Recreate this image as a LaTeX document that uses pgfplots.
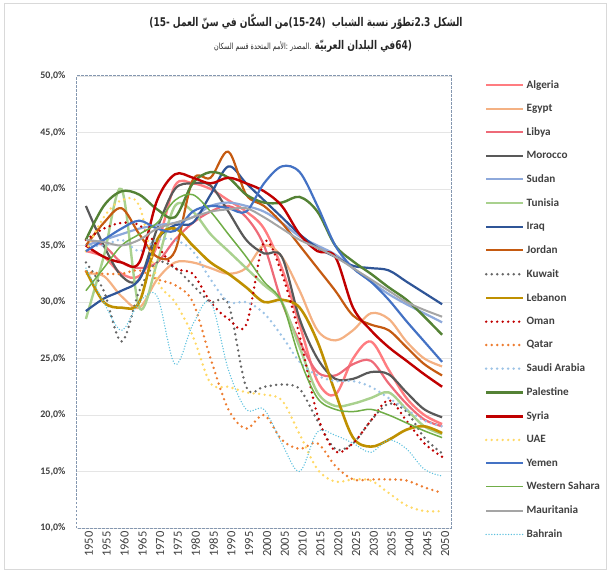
\documentclass[border=0pt]{standalone}
\usepackage{fontspec}
\setmainfont{Carlito}
\newfontfamily\arabicfont[Script=Arabic]{DejaVu Sans}
\TeXXeTstate=1
\usepackage{pgfplots}
\usepackage{pgfplotstable}
\pgfplotsset{compat=1.18}

\definecolor{algeria}{HTML}{FF7C80}
\definecolor{egypt}{HTML}{F4B183}
\definecolor{libya}{HTML}{EE6A78}
\definecolor{morocco}{HTML}{595959}
\definecolor{sudan}{HTML}{8EA9DB}
\definecolor{tunisia}{HTML}{A9D18E}
\definecolor{iraq}{HTML}{2F5597}
\definecolor{jordan}{HTML}{C55A11}
\definecolor{kuwait}{HTML}{666666}
\definecolor{lebanon}{HTML}{BF9000}
\definecolor{oman}{HTML}{C00000}
\definecolor{qatar}{HTML}{ED7D31}
\definecolor{saudi}{HTML}{9DC3E6}
\definecolor{palestine}{HTML}{548235}
\definecolor{syria}{HTML}{C00000}
\definecolor{uae}{HTML}{FFD966}
\definecolor{yemen}{HTML}{4472C4}
\definecolor{wsahara}{HTML}{70AD47}
\definecolor{mauritania}{HTML}{A5A5A5}
\definecolor{bahrain}{HTML}{5BC0DE}
\definecolor{axisblue}{HTML}{8497B0}
\definecolor{txt}{HTML}{404040}

% share of youth (15-24) in working-age population, %
\pgfplotstableread{
year Alg  Egy  Lby  Mor  Sud  Tun  Irq  Jor  Kuw  Leb  Omn  Qat  Sau  Pal  Syr  UAE  Yem  WSa  Mau  Bhr
1950 34.5 32.5 35.5 38.5 35.0 28.5 29.2 35.0 33.5 32.8 35.5 32.7 35.0 35.5 35.0 34.5 34.5 31.0 35.5 33.0
1955 34.0 32.3 35.0 35.0 35.5 34.0 30.3 37.0 31.0 30.0 36.5 32.5 35.0 38.5 34.0 37.5 35.5 33.0 35.3 30.0
1960 32.5 30.5 33.5 32.3 36.0 40.0 31.0 38.3 26.5 29.5 37.0 32.5 35.5 39.8 33.5 39.0 36.5 35.0 35.0 27.5
1965 32.3 29.5 33.0 32.0 36.5 29.5 32.0 36.0 31.0 30.0 36.8 32.8 34.5 39.5 33.5 38.5 37.2 36.0 35.5 30.0
1970 35.0 32.0 33.5 36.5 36.8 33.5 35.5 34.0 33.5 35.5 35.0 32.0 35.5 38.2 39.0 32.0 36.5 37.0 36.5 30.5
1975 40.3 33.5 35.5 40.0 37.0 38.5 36.8 34.5 33.0 36.5 33.0 31.5 35.5 37.5 41.3 30.0 36.3 39.0 37.0 24.5
1980 40.5 33.5 37.0 40.5 37.5 38.0 37.0 40.8 31.5 35.0 32.5 30.0 34.5 40.5 41.0 27.0 38.0 39.5 37.5 28.0
1985 40.0 33.0 38.0 40.3 38.5 36.0 39.5 41.0 30.0 33.5 30.0 25.0 32.0 41.5 40.5 22.8 38.5 38.0 38.0 30.0
1990 39.0 32.5 38.5 38.0 38.8 34.5 42.0 43.3 29.8 32.5 28.5 20.5 30.0 41.0 41.0 22.5 38.3 36.0 38.2 24.0
1995 38.0 33.0 37.5 35.5 38.5 33.0 40.5 39.5 22.5 31.3 28.0 18.8 30.0 39.5 40.5 22.0 38.0 34.0 38.3 20.5
2000 36.5 35.0 35.0 34.3 38.0 31.5 39.0 38.5 22.5 30.0 35.3 20.0 29.0 38.8 39.8 21.8 40.5 31.8 37.5 20.5
2005 33.0 34.0 30.0 34.0 37.0 30.0 37.5 37.0 22.7 30.2 32.5 17.8 27.0 38.8 38.5 21.3 42.0 30.0 36.5 17.5
2010 28.0 31.0 26.5 28.5 35.8 26.0 36.0 35.0 22.3 29.5 27.0 17.0 24.7 39.3 36.0 18.3 41.5 25.0 35.5 15.0
2015 23.0 27.5 23.8 25.0 35.0 22.0 34.8 33.0 19.5 26.5 20.0 17.5 23.5 38.0 34.5 15.2 38.5 21.5 34.8 18.5
2020 21.8 26.6 23.5 23.2 34.2 20.8 34.0 31.0 17.0 22.0 16.8 15.5 23.0 35.0 34.0 14.1 35.0 20.5 34.0 18.2
2025 25.0 27.5 24.5 23.2 33.0 21.0 33.2 28.8 17.5 18.0 17.5 14.3 23.0 33.6 29.5 14.3 33.0 20.3 33.0 17.5
2030 26.5 29.0 24.8 23.8 31.8 21.5 33.0 28.0 19.5 17.2 19.5 14.3 22.5 32.5 27.5 14.2 31.8 20.5 32.0 16.7
2035 24.0 28.5 22.8 23.6 30.7 22.0 32.8 27.5 21.0 17.8 21.3 14.3 21.5 31.3 26.0 13.1 30.2 20.0 31.0 17.8
2040 21.5 26.5 21.0 22.0 29.8 20.5 31.8 26.0 20.3 18.7 19.5 14.2 20.5 30.2 24.8 12.0 28.3 19.3 30.0 17.0
2045 20.0 25.0 19.6 20.5 29.0 19.0 30.8 24.5 18.0 19.0 17.5 13.6 19.5 28.7 23.6 11.5 26.5 18.6 29.3 15.2
2050 19.2 24.3 19.0 19.8 28.2 18.3 29.8 23.5 16.6 18.4 16.3 13.1 19.0 27.1 22.5 11.5 24.7 18.0 28.7 14.6
}\youth

\begin{document}
\begin{tikzpicture}
\path[use as bounding box] (-77pt,-45pt) rectangle (531pt,528pt);
\draw[black!15, line width=0.8pt] (-73pt,-41pt) rectangle (529pt,525pt);

\node[font=\arabicfont\bfseries\fontsize{12}{14}\selectfont, text=black!85, xscale=0.75, transform shape]
  at (229pt,506pt) {\beginR الشكل \beginL 2.3\endL\kern0pt تطوّر نسبة الشباب \ \beginL(15-24)\endL\kern0pt من السكّان في سنّ العمل \beginL-15)\endL\endR};
\node[font=\arabicfont\bfseries\fontsize{12}{14}\selectfont, text=black!85, xscale=0.75, transform shape]
  at (236pt,482pt) {\beginR\beginL(64\endL\kern0pt في البلدان العربيّة {\mdseries\fontsize{8.5}{10}\selectfont .\kern0pt المصدر :\kern0pt الأمم المتحدة قسم السكان}\endR};

\begin{axis}[
  scale only axis, width=374pt, height=452pt,
  xmin=1947.5, xmax=2052.5, ymin=10, ymax=50,
  xtick={1950,1955,...,2050}, ytick={10,15,...,50},
  major tick length=0pt,
  ymajorgrids, grid style={color=black!10, line width=0.8pt},
  axis line style={color=axisblue, dash pattern=on 2.5pt off 1.5pt, line width=1pt},
  /pgf/number format/assume math mode=true,
  xticklabel={\pgfmathprintnumber[1000 sep={}]{\tick}},
  yticklabel={\pgfmathprintnumber[fixed,fixed zerofill,precision=1,use comma]{\tick}\%},
  xticklabel style={rotate=90, anchor=east, font=\fontsize{12.5}{14}\selectfont, text=txt, yshift=-3pt},
  yticklabel style={font=\bfseries\fontsize{10}{12}\selectfont, text=txt, xshift=-8pt},
  legend cell align=left,
  legend image code/.code={\draw[#1] (0pt,0pt) -- (37pt,0pt);},
  legend style={at={(1.09,0.995)}, anchor=north west, draw=none, fill=none,
    font=\bfseries\fontsize{11.2}{13}\selectfont, text=txt, row sep=10.5pt,
    inner sep=0pt},
  every axis plot/.append style={smooth, tension=0.55},
  dot line/.style={line width=2.7pt, dash pattern=on 0pt off 5.5pt, line cap=round},
]
\addplot[algeria, line width=2.4pt] table[x=year,y=Alg] \youth;
\addlegendentry{Algeria}
\addplot[egypt, line width=2.2pt] table[x=year,y=Egy] \youth;
\addlegendentry{Egypt}
\addplot[libya, line width=2.2pt] table[x=year,y=Lby] \youth;
\addlegendentry{Libya}
\addplot[morocco, line width=2.2pt] table[x=year,y=Mor] \youth;
\addlegendentry{Morocco}
\addplot[sudan, line width=2.2pt] table[x=year,y=Sud] \youth;
\addlegendentry{Sudan}
\addplot[tunisia, line width=2.4pt] table[x=year,y=Tun] \youth;
\addlegendentry{Tunisia}
\addplot[iraq, line width=2.2pt] table[x=year,y=Irq] \youth;
\addlegendentry{Iraq}
\addplot[jordan, line width=2.2pt] table[x=year,y=Jor] \youth;
\addlegendentry{Jordan}
\addplot[kuwait, dot line] table[x=year,y=Kuw] \youth;
\addlegendentry{Kuwait}
\addplot[lebanon, line width=2.6pt] table[x=year,y=Leb] \youth;
\addlegendentry{Lebanon}
\addplot[oman, dot line] table[x=year,y=Omn] \youth;
\addlegendentry{Oman}
\addplot[qatar, dot line] table[x=year,y=Qat] \youth;
\addlegendentry{Qatar}
\addplot[saudi, dot line] table[x=year,y=Sau] \youth;
\addlegendentry{Saudi Arabia}
\addplot[palestine, line width=2.4pt] table[x=year,y=Pal] \youth;
\addlegendentry{Palestine}
\addplot[syria, line width=2.4pt] table[x=year,y=Syr] \youth;
\addlegendentry{Syria}
\addplot[uae, dot line] table[x=year,y=UAE] \youth;
\addlegendentry{UAE}
\addplot[yemen, line width=2.2pt] table[x=year,y=Yem] \youth;
\addlegendentry{Yemen}
\addplot[wsahara, line width=1.5pt] table[x=year,y=WSa] \youth;
\addlegendentry{Western Sahara}
\addplot[mauritania, line width=2pt] table[x=year,y=Mau] \youth;
\addlegendentry{Mauritania}
\addplot[bahrain, line width=1.5pt, dash pattern=on 0pt off 2.8pt, line cap=round] table[x=year,y=Bhr] \youth;
\addlegendentry{Bahrain}
\end{axis}
\end{tikzpicture}
\end{document}
